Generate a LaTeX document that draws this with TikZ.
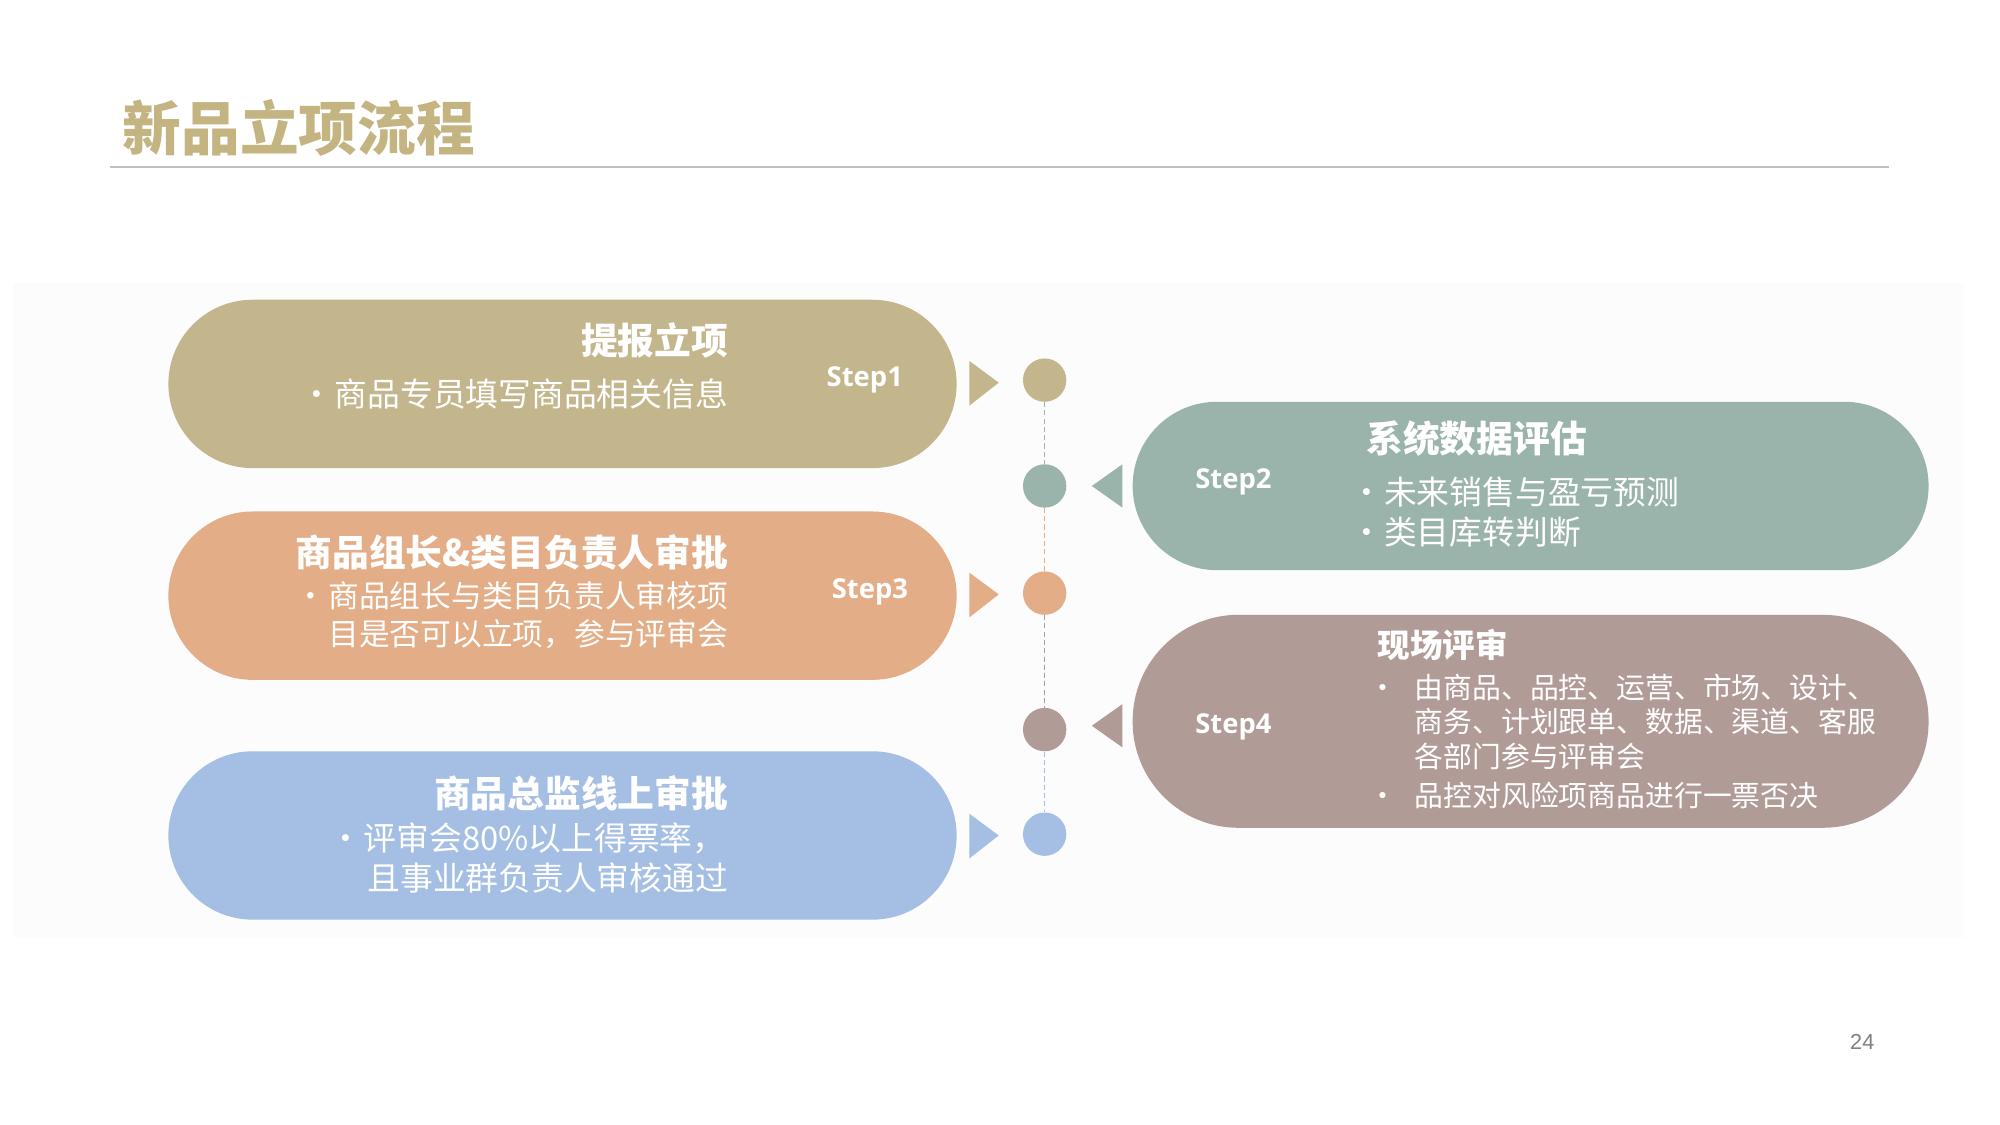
\documentclass[tikz,border=0pt]{standalone}
\usepackage{fontspec}
\setmainfont{Noto Sans CJK SC}
\newfontfamily\stepfont{Open Sans}
\newfontfamily\numfont{Liberation Sans}
\definecolor{cgold}{RGB}{196,182,140}
\definecolor{ctitle}{RGB}{196,180,130}
\definecolor{cteal}{RGB}{154,179,171}
\definecolor{corange}{RGB}{226,173,135}
\definecolor{cmauve}{RGB}{177,155,151}
\definecolor{cblue}{RGB}{164,191,227}
\definecolor{cpanel}{RGB}{252,252,252}
\begin{document}
\begin{tikzpicture}[x=1pt,y=-1pt,
  dot/.style={circle,fill=#1,minimum size=34pt,inner sep=0pt},
  steplbl/.style={text=white,font=\stepfont\bfseries\fontsize{21.5}{24}\selectfont,inner sep=0pt},
  hd/.style={text=white,font=\bfseries\fontsize{28.8}{32}\selectfont,inner sep=0pt},
  bl/.style={text=white,font=\fontsize{#1}{#1}\selectfont,inner sep=0pt},
  seg/.style={dash pattern=on 4pt off 2.5pt,line width=1pt,draw=#1}
]
\useasboundingbox (0,0) rectangle (1568,882);
% panel
\fill[cpanel] (10,222) rectangle (1540,735);
% title
\node[anchor=west,text=ctitle,font=\bfseries\fontsize{46}{50}\selectfont,inner sep=0pt] (title) at (96,100) {新品立项流程};
\draw[draw={rgb,255:red,191;green,191;blue,191},line width=1pt] (86,131) -- (1481,131);
% pills
\fill[cgold,rounded corners=66pt] (132,235) rectangle (750,367);
\fill[cteal,rounded corners=66pt] (888,315) rectangle (1512,447);
\fill[corange,rounded corners=66pt] (132,401) rectangle (750,533);
\fill[cmauve,rounded corners=83pt] (888,482) rectangle (1512,649);
\fill[cblue,rounded corners=66pt] (132,589) rectangle (750,721);
% triangles
\fill[cgold] (760,283) -- (783,300) -- (760,318) -- cycle;
\fill[cteal] (880,364) -- (856,381) -- (880,398) -- cycle;
\fill[corange] (760,449) -- (783,466) -- (760,484) -- cycle;
\fill[cmauve] (880,552) -- (856,569) -- (880,586) -- cycle;
\fill[cblue] (760,638) -- (783,655) -- (760,673) -- cycle;
% dots
\node[dot=cgold] (c1) at (819,298) {};
\node[dot=cteal] (c2) at (819,381) {};
\node[dot=corange] (c3) at (819,465) {};
\node[dot=cmauve] (c4) at (819,572) {};
\node[dot=cblue] (c5) at (819,654) {};
\draw[seg=cteal] (c1) -- (c2);
\draw[seg=corange] (c2) -- (c3);
\draw[seg=cmauve] (c3) -- (c4);
\draw[seg=cblue] (c4) -- (c5);
% step labels
\node[steplbl] (s1) at (678,298) {Step1};
\node[steplbl] (s2) at (967,378) {Step2};
\node[steplbl] (s3) at (682,464) {Step3};
\node[steplbl] (s4) at (967,570) {Step4};
% step 1 text
\node[hd,anchor=east] (h1) at (571,267) {提报立项};
\node[bl=25.7,anchor=east] (b1) at (571,309) {\llap{•\hspace{1pt}}商品专员填写商品相关信息};
% step 2 text
\node[hd,anchor=west] (h2) at (1071,344) {系统数据评估};
\node[bl=25.7,anchor=west] (b2a) at (1085,386) {\llap{•\hspace{1pt}}未来销售与盈亏预测};
\node[bl=25.7,anchor=west] (b2b) at (1085,417) {\llap{•\hspace{1pt}}类目库转判断};
% step 3 text
\node[hd,anchor=east] (h3) at (571,433) {商品组长\&类目负责人审批};
\node[bl=24.1,anchor=east] (b3a) at (571,467) {\llap{•\hspace{1.5pt}}商品组长与类目负责人审核项};
\node[bl=24.1,anchor=east] (b3b) at (571,497) {目是否可以立项，参与评审会};
% step 4 text
\node[text=white,font=\bfseries\fontsize{25.5}{28}\selectfont,inner sep=0pt,anchor=west] (h4) at (1080,506) {现场评审};
\node[bl=22.6,anchor=west] (b4a) at (1109,539) {\llap{•\hspace{14pt}}由商品、品控、运营、市场、设计、};
\node[bl=22.6,anchor=west] (b4b) at (1109,566) {商务、计划跟单、数据、渠道、客服};
\node[bl=22.6,anchor=west] (b4c) at (1109,593) {各部门参与评审会};
\node[bl=22.6,anchor=west] (b4d) at (1109,624) {\llap{•\hspace{14pt}}品控对风险项商品进行一票否决};
% step 5 text
\node[hd,anchor=east] (h5) at (571,622) {商品总监线上审批};
\node[bl=25.7,anchor=west] (b5a) at (285,657) {\llap{•\hspace{1pt}}评审会80\%以上得票率，};
\node[bl=25.7,anchor=east] (b5b) at (571,688) {且事业群负责人审核通过};
% page number
\node[text={rgb,255:red,128;green,128;blue,128},font=\numfont\fontsize{17}{20}\selectfont,inner sep=0pt] (pg) at (1460,817) {24};
\end{tikzpicture}
\end{document}
